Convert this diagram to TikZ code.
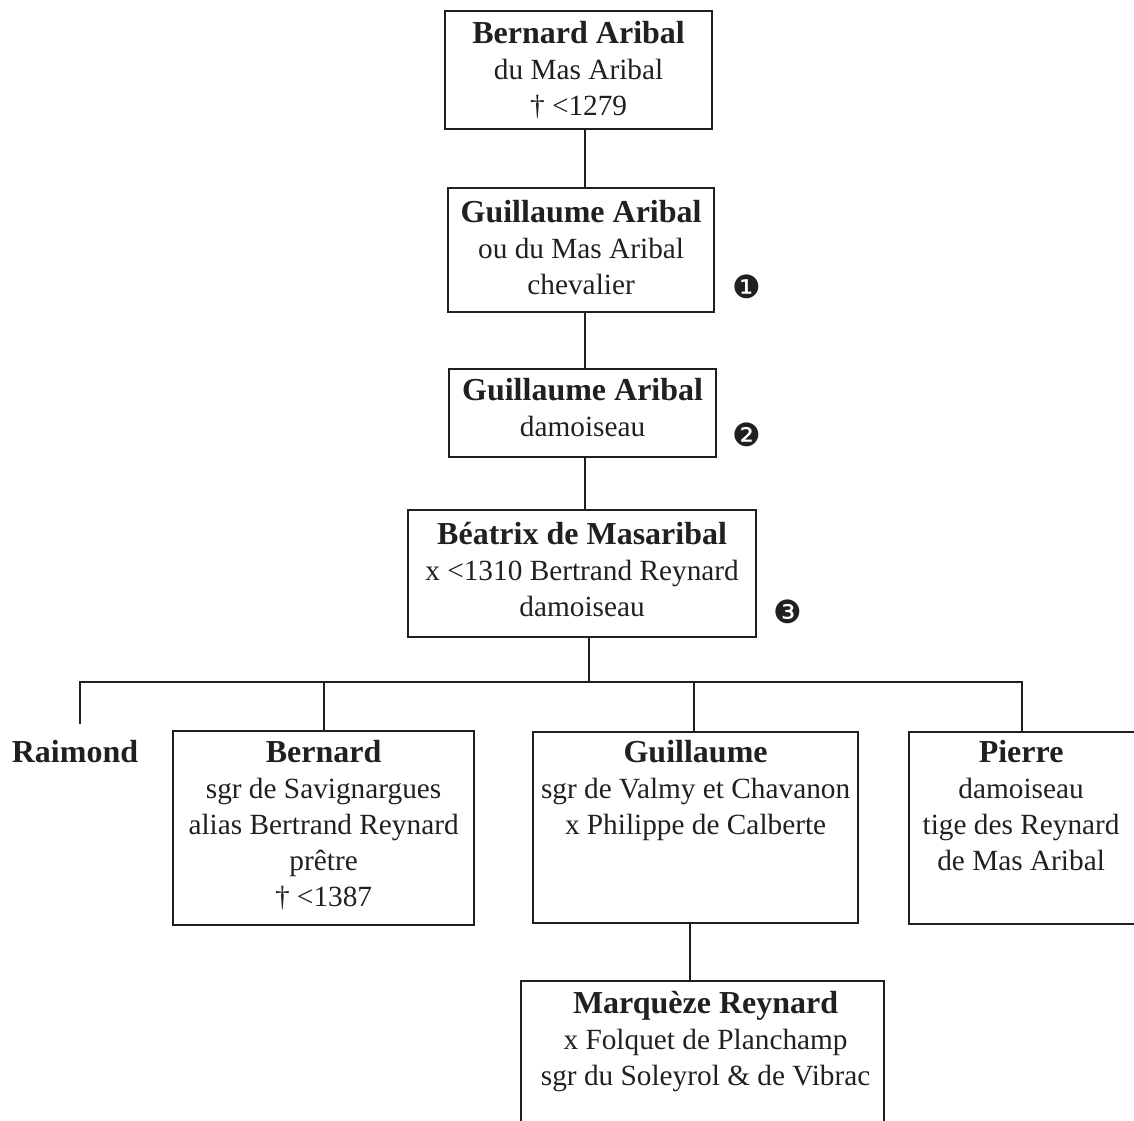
\documentclass[tikz,border=0pt]{standalone}
\usepackage{fontspec}
\setmainfont{Liberation Serif}
\newfontfamily\dingfont{DejaVu Sans}
\usepackage{tikz}
\usetikzlibrary{positioning}
\usepackage{xcolor}
\definecolor{inkline}{HTML}{231F20}
\newcommand{\nameline}[1]{{\fontsize{32}{36}\selectfont\bfseries #1}}

\begin{document}
\begin{tikzpicture}[
    x=1pt, y=-1pt,
    personBox/.style={draw=inkline, line width=2.2pt, inner sep=0pt, anchor=north west},
    personText/.style={inner sep=0pt, align=center, text=inkline, font=\fontsize{29.3}{36}\selectfont},
    linkLine/.style={draw=inkline, line width=2.2pt},
    stepMark/.style={inner sep=0pt, text=inkline, font=\dingfont\fontsize{32}{32}\selectfont}
]
    \useasboundingbox (0,0) rectangle (1134,1120);
    \clip (0,0) rectangle (1134,1120);

    % Direct line, top to bottom
    \node[personBox, minimum width=267, minimum height=118] (bernardAribal) at (444,10) {};
    \node[personText, below=11pt of bernardAribal.north] (bernardAribalTxt)
        {\nameline{Bernard Aribal}\\du Mas Aribal\\† <1279};

    \node[personBox, minimum width=266, minimum height=124] (guillaumeChev) at (447,187) {};
    \node[personText, below=13pt of guillaumeChev.north] (guillaumeChevTxt)
        {\nameline{Guillaume Aribal}\\ou du Mas Aribal\\chevalier};

    \node[personBox, minimum width=267, minimum height=88] (guillaumeDam) at (448,368) {};
    \node[personText, below=10pt of guillaumeDam.north] (guillaumeDamTxt)
        {\nameline{Guillaume Aribal}\\damoiseau};

    \node[personBox, minimum width=348, minimum height=127] (beatrix) at (407,509) {};
    \node[personText, below=13pt of beatrix.north] (beatrixTxt)
        {\nameline{Béatrix de Masaribal}\\x <1310 Bertrand Reynard\\damoiseau};

    % Step marks
    \node[stepMark] (stepOne) at (747,287) {❶};
    \node[stepMark] (stepTwo) at (747,435) {❷};
    \node[stepMark] (stepThree) at (788,612) {❸};

    % Children
    \node[personText, anchor=base] (raimond) at (75,762) {\nameline{Raimond}};

    \node[personBox, minimum width=301, minimum height=194] (bernard) at (172,730) {};
    \node[personText, below=10pt of bernard.north] (bernardTxt)
        {\nameline{Bernard}\\sgr de Savignargues\\alias Bertrand Reynard\\prêtre\\† <1387};

    \node[personBox, minimum width=325, minimum height=191] (guillaume) at (532,731) {};
    \node[personText, below=9pt of guillaume.north] (guillaumeTxt)
        {\nameline{Guillaume}\\sgr de Valmy et Chavanon\\x Philippe de Calberte};

    \node[personBox, minimum width=228, minimum height=192] (pierre) at (908,731) {};
    \node[personText, below=9pt of pierre.north, xshift=-2pt] (pierreTxt)
        {\nameline{Pierre}\\damoiseau\\tige des Reynard\\de Mas Aribal};

    \node[personBox, minimum width=363, minimum height=160] (marqueze) at (520,980) {};
    \node[personText, below=11pt of marqueze.north, xshift=3pt] (marquezeTxt)
        {\nameline{Marquèze Reynard}\\x Folquet de Planchamp\\sgr du Soleyrol \& de Vibrac};

    % Connectors
    \coordinate (trunk) at (585,0);
    \coordinate (childBar) at (589,682);
    \coordinate (raimondTop) at (80,724);
    \draw[linkLine] (bernardAribal.south -| trunk) -- (guillaumeChev.north -| trunk);
    \draw[linkLine] (guillaumeChev.south -| trunk) -- (guillaumeDam.north -| trunk);
    \draw[linkLine] (guillaumeDam.south -| trunk) -- (beatrix.north -| trunk);
    \draw[linkLine] (beatrix.south -| childBar) -- (childBar);
    \draw[linkLine] (raimondTop) |- (childBar) -| ([xshift=-1pt]pierre.north);
    \draw[linkLine] (bernard.north) -- (bernard.north |- childBar);
    \draw[linkLine] ([xshift=-1.5pt]guillaume.north) -- ([xshift=-1.5pt]guillaume.north |- childBar);
    \draw[linkLine] ([xshift=-6pt]guillaume.south) -- ([xshift=-6pt]guillaume.south |- marqueze.north);
\end{tikzpicture}
\end{document}
